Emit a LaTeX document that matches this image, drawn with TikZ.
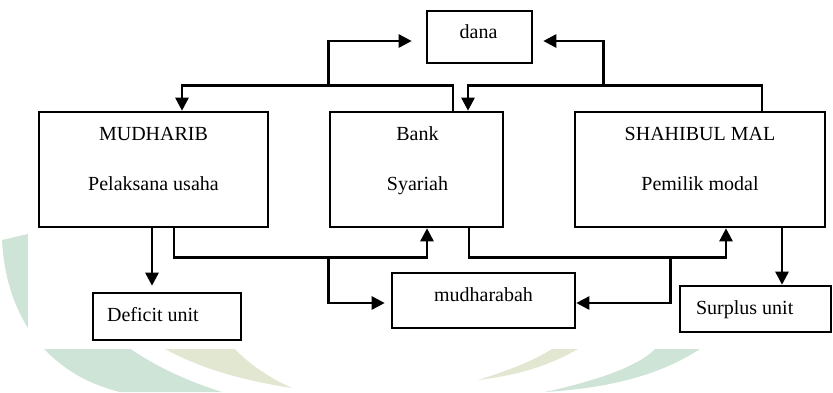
\documentclass[tikz,border=0pt]{standalone}
\usepackage{fontspec}
\setmainfont{Liberation Serif}
\usetikzlibrary{calc,arrows.meta,positioning}
\definecolor{wmteal}{RGB}{206,228,214}
\definecolor{wmkhaki}{RGB}{226,231,210}

\begin{document}
\begin{tikzpicture}[x=0.5pt,y=-0.5pt,
		box/.style={draw, line width=1.3pt, inner sep=0pt},
		txt/.style={anchor=base, inner sep=0pt},
		arr/.style={line width=1.3pt, -{Triangle[length=6.5pt,width=6.5pt]}}]
	
	\useasboundingbox (0,0) rectangle (833,392);
	
	% watermark
	\fill[wmteal] (2,240) .. controls (6,320) and (50,375) .. (120,392) -- (222,392) .. controls (120,360) and (60,300) .. (45,230) -- cycle;
	\fill[wmkhaki] (165,349) -- (235,349) .. controls (250,365) and (270,378) .. (292,388) .. controls (240,380) and (200,368) .. (165,349);
	\fill[wmkhaki] (552,349) -- (578,349) .. controls (550,365) and (520,375) .. (478,380) .. controls (510,370) and (535,360) .. (552,349);
	\fill[wmteal] (655,349) -- (700,349) .. controls (660,375) and (610,388) .. (545,392) .. controls (600,380) and (640,365) .. (655,349);
	\fill[white] (28,0) rectangle (833,349);
	
	% kotak
	\node[box, minimum width=52.5pt, minimum height=26pt] (dana) at (479.5,37) {};
	\node[box, minimum width=114.5pt, minimum height=57.5pt] (mud) at (153.5,169.5) {};
	\node[box, minimum width=86.5pt, minimum height=57.5pt] (bank) at (416.5,169.5) {};
	\node[box, minimum width=125pt, minimum height=57.5pt] (sm) at (700,169.5) {};
	\node[box, minimum width=74pt, minimum height=23.5pt] (deficit) at (167,316.5) {};
	\node[box, minimum width=91.5pt, minimum height=27.5pt] (mudh) at (483.5,300.5) {};
	\node[box, minimum width=75.5pt, minimum height=23pt] (surplus) at (755.5,309) {};
	
	% teks
	\node[txt] (danaT) at ($(dana.north)+(-1,29)$) {dana};
	\node[txt] (mudA) at ($(mud.north)+(0,29.5)$) {MUDHARIB};
	\node[txt] (mudB) at ($(mud.north)+(0,80)$) {Pelaksana usaha};
	\node[txt] (bankA) at ($(bank.north)+(1,29.5)$) {Bank};
	\node[txt] (bankB) at ($(bank.north)+(1,80)$) {Syariah};
	\node[txt] (smA) at ($(sm.north)+(0,29.5)$) {SHAHIBUL MAL};
	\node[txt] (smB) at ($(sm.north)+(0,80)$) {Pemilik modal};
	\node[txt, anchor=base west] (deficitT) at ($(deficit.north west)+(15,30)$) {Deficit unit};
	\node[txt] (mudhT) at ($(mudh.north)+(0,30)$) {mudharabah};
	\node[txt, anchor=base west] (surplusT) at ($(surplus.north west)+(17,30)$) {Surplus unit};
	
	% aliran dana (atas)
	\draw[arr] ($(bank.north)+(36.5,0)$) -- ++(0,-25) -| ($(mud.north)+(28.5,0)$);
	\draw[arr] ($(bank.north west)+(0,-25)$) |- ($(dana.west)+(-14,4)$);
	\draw[arr] ($(sm.north)+(62,0)$) -- ++(0,-25) -| ($(bank.north)+(51.5,0)$);
	\draw[arr] ($(sm.north west)+(30,-25)$) |- ($(dana.east)+(10,4)$);
	
	% aliran bawah
	\coordinate (c1) at ($(mud.south)+(-1.5,0)$);
	\draw[arr, shorten >=3pt] (c1) -- (c1 |- deficit.north);
	\draw[arr] ($(mud.south)+(20.5,0)$) -- ++(0,29) -| ($(bank.south)+(10.5,0)$);
	\draw[arr, shorten >=3pt] ($(bank.south west)+(0,29)$) |- ($(mudh.west)+(0,2.5)$);
	\draw[arr] ($(bank.south)+(52.5,0)$) -- ++(0,29) -| ($(sm.south)+(26,0)$);
	\draw[arr] ($(sm.south west)+(97,29)$) |- ($(mudh.east)+(0,2.5)$);
	\coordinate (c2) at ($(sm.south)+(82,0)$);
	\draw[arr] (c2) -- (c2 |- surplus.north);
	
\end{tikzpicture}
\end{document}
